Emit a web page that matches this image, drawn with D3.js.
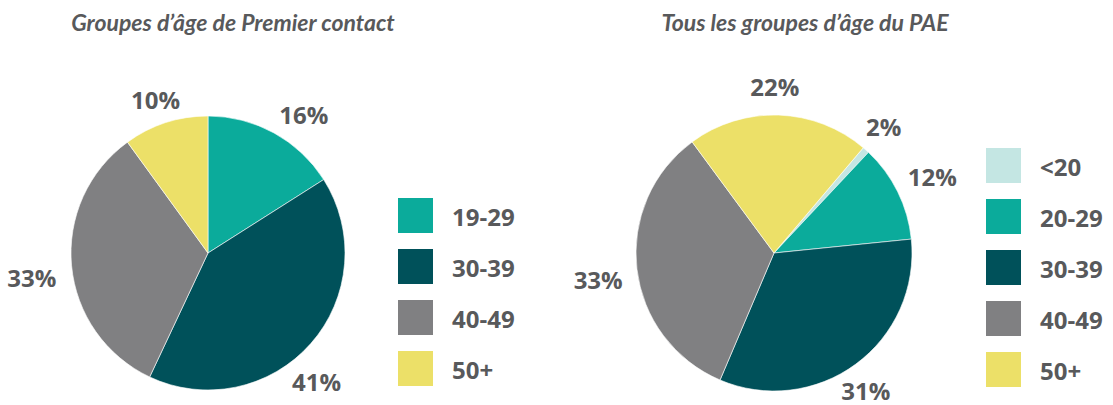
<!DOCTYPE html>
<html>
<head>
<meta charset="utf-8">
<script src="https://cdn.jsdelivr.net/npm/d3@7/dist/d3.min.js"></script>
<style>
  html, body { margin: 0; padding: 0; background: #fff; }
  svg { display: block; }
</style>
</head>
<body>
<svg id="chart" width="1113" height="405"></svg>
<script>
// ---- data ----
const leftTitle = "Groupes d\u2019\u00e2ge de Premier contact";
const leftCategories = ["19-29", "30-39", "40-49", "50+"];
const leftValues = [16, 41, 33, 10];
const leftLabels = ["16%", "41%", "33%", "10%"];

const rightTitle = "Tous les groupes d\u2019\u00e2ge du PAE";
const rightCategories = ["<20", "20-29", "30-39", "40-49", "50+"];
const rightValues = [0.8, 11.4, 33.0, 33.5, 21.3];
const rightLabels = ["2%", "12%", "31%", "33%", "22%"];

const colorMap = {
  "<20": "#c4e6e3",
  "19-29": "#0bab9b",
  "20-29": "#0bab9b",
  "30-39": "#00515a",
  "40-49": "#808082",
  "50+": "#ece068"
};

// ---- layout (positions / styles) ----
const textColor = "#58595b";
const layout = {
  left: {
    cx: 208, cy: 253, r: 137, startDeg: 0,
    titleX: 233, titleY: 31,
    legendX: 398, legendY: 198, legendStep: 51,
    nudges: [[14, 10], [-19, 16], [-7, 9], [0, 8]]
  },
  right: {
    cx: 774, cy: 253, r: 138, startDeg: 40.3,
    titleX: 805, titleY: 31,
    legendX: 986, legendY: 148, legendStep: 51,
    nudges: [[-3.5, 0], [6, -1], [-9, 1], [-7, 7], [-5, 3]]
  }
};

const svg = d3.select("#chart");

function drawPie(cfg, title, cats, vals, labels) {
  const color = d3.scaleOrdinal().domain(cats).range(cats.map(c => colorMap[c]));
  const start = cfg.startDeg * Math.PI / 180;
  const pie = d3.pie().sort(null).value(d => d.v)
    .startAngle(start).endAngle(start + 2 * Math.PI);
  const data = pie(cats.map((c, i) => ({ c, v: vals[i], label: labels[i], i })));
  const arc = d3.arc().innerRadius(0).outerRadius(cfg.r);
  const labelArc = d3.arc().innerRadius(170).outerRadius(170);

  const g = svg.append("g").attr("transform", `translate(${cfg.cx},${cfg.cy})`);
  g.selectAll("path").data(data).join("path")
    .attr("d", arc)
    .attr("fill", d => color(d.data.c))
    .attr("stroke", "#ffffff")
    .attr("stroke-width", 0.6)
    .attr("stroke-linejoin", "round");

  g.selectAll("text").data(data).join("text")
    .attr("x", d => labelArc.centroid(d)[0] + cfg.nudges[d.data.i][0])
    .attr("y", d => labelArc.centroid(d)[1] + cfg.nudges[d.data.i][1])
    .attr("text-anchor", "middle")
    .attr("dominant-baseline", "central")
    .attr("font-family", "'Open Sans', sans-serif")
    .attr("font-weight", 700)
    .attr("font-size", 24)
    .attr("fill", textColor)
    .text(d => d.data.label);

  svg.append("text")
    .attr("x", cfg.titleX).attr("y", cfg.titleY)
    .attr("text-anchor", "middle")
    .attr("font-family", "Lato, sans-serif")
    .attr("font-style", "italic")
    .attr("font-weight", 700)
    .attr("font-size", 23)
    .attr("fill", textColor)
    .text(title);

  const legendScale = d3.scaleBand().domain(cats)
    .range([cfg.legendY, cfg.legendY + cfg.legendStep * cats.length]);
  const lg = svg.append("g");
  const items = lg.selectAll("g").data(cats).join("g")
    .attr("transform", c => `translate(${cfg.legendX},${legendScale(c)})`);
  items.append("rect")
    .attr("width", 35).attr("height", 35)
    .attr("fill", c => color(c));
  items.append("text")
    .attr("x", 54).attr("y", 18)
    .attr("dominant-baseline", "central")
    .attr("font-family", "'Open Sans', sans-serif")
    .attr("font-weight", 700)
    .attr("font-size", 24)
    .attr("fill", textColor)
    .text(c => c);
}

drawPie(layout.left, leftTitle, leftCategories, leftValues, leftLabels);
drawPie(layout.right, rightTitle, rightCategories, rightValues, rightLabels);
</script>
</body>
</html>
